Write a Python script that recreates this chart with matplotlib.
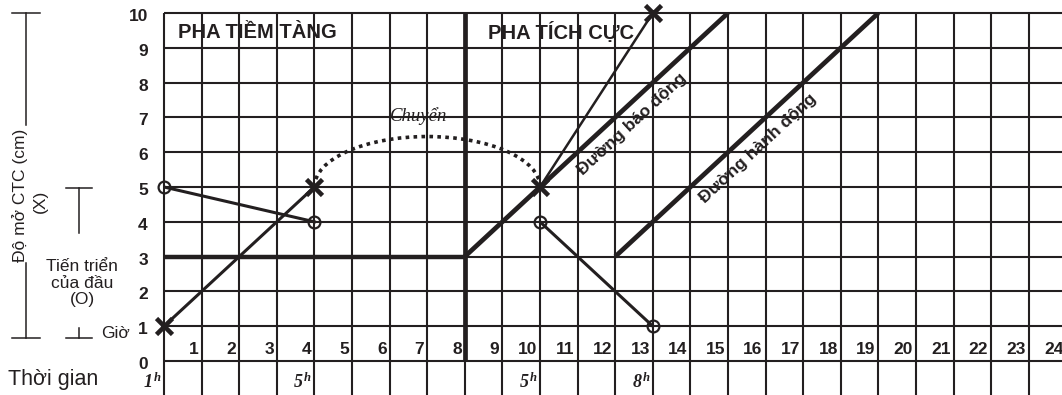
import matplotlib
matplotlib.use('Agg')
import matplotlib.pyplot as plt
from matplotlib.patches import Arc
from matplotlib.lines import Line2D

plt.rcParams['font.family'] = ['Liberation Sans', 'DejaVu Sans']
plt.rcParams['mathtext.fontset'] = 'custom'
plt.rcParams['mathtext.it'] = 'Liberation Serif:italic'
plt.rcParams['mathtext.rm'] = 'Liberation Serif'
plt.rcParams['mathtext.bf'] = 'Liberation Serif:italic:bold'

INK = '#231f20'

# ---- data ----
hours = list(range(1, 25))
cm_levels = list(range(0, 11))
grid_cols = list(range(0, 24))
# cervical dilation (X)
dil_x1 = [0, 4]
dil_y1 = [1, 5]
dil_x2 = [10, 13]
dil_y2 = [5, 10]
# head descent (O)
head_x1 = [0, 4]
head_y1 = [5, 4]
head_x2 = [10, 13]
head_y2 = [4, 1]
# latent phase line and boundary
latent_x = [0, 8]
latent_y = [3, 3]
phase_boundary_x = 8
# alert / action lines
alert_x = [8, 15]
alert_y = [3, 10]
action_x = [12, 19]
action_y = [3, 10]
# transfer arc (Chuyển)
transfer_center = (7, 5)
transfer_w = 6
transfer_h = 2.9
# clock times
clock_pos = [0, 4, 10, 13]
clock_labels = ['1', '5', '5', '8']

W, H = 1062, 395
UX, UY = 37.6, 34.8
fig = plt.figure(figsize=(W / 100, H / 100), dpi=100)
ax = fig.add_axes([164 / W, 0, (W - 164) / W, (H - 13) / H])
ax.set_xlim(0, (W - 164) / UX)
ax.set_ylim(-34 / UY, 10)
ax.axis('off')

# grid
ax.vlines(grid_cols, -2, 10, color=INK, lw=1.5, clip_on=False)
ax.hlines(cm_levels, 0, 25, color=INK, lw=1.5, clip_on=False)

# thick structural lines
ax.plot(latent_x, latent_y, color=INK, lw=3.2, solid_capstyle='butt')
ax.vlines(phase_boundary_x, 0, 10, color=INK, lw=3.4)
ax.plot(alert_x, alert_y, color=INK, lw=3.4, solid_capstyle='butt')
ax.plot(action_x, action_y, color=INK, lw=3.4, solid_capstyle='butt')

# dilation
ax.plot(dil_x1, dil_y1, color=INK, lw=2.2)
ax.plot(dil_x2, dil_y2, color=INK, lw=1.8)
ax.plot(dil_x1 + dil_x2, dil_y1 + dil_y2, ls='none', marker='x', ms=12,
        mew=3.3, color=INK, clip_on=False, zorder=5)

# head descent
ax.plot(head_x1, head_y1, color=INK, lw=2.2)
ax.plot(head_x2, head_y2, color=INK, lw=2.2)
ax.plot(head_x1 + head_x2, head_y1 + head_y2, ls='none', marker='o', ms=8.5,
        mew=1.6, mfc='none', mec=INK, clip_on=False, zorder=5)

# transfer arc
ax.add_patch(Arc(transfer_center, transfer_w, transfer_h, theta1=0, theta2=180,
                 color=INK, lw=2.6, ls=(0, (1, 1.2))))
ax.text(6.0, 7.05, 'Chuyển', fontsize=13.5, style='italic',
        family=['Liberation Serif', 'DejaVu Serif'], color=INK, va='center')

# phase titles
ax.text(0.37, 9.45, 'PHA TIỀM TÀNG', fontsize=14.5, fontweight='bold',
        color=INK, va='center', ha='left')
ax.text(8.62, 9.45, 'PHA TÍCH CỰC', fontsize=14.5, fontweight='bold',
        color=INK, va='center', ha='left')

# line labels
ax.text(12.45, 6.8, 'Đường báo động', rotation=42.8, rotation_mode='anchor',
        fontsize=12.5, fontweight='bold', color=INK, ha='center', va='center')
ax.text(15.8, 6.12, 'Đường hành động', rotation=42.8, rotation_mode='anchor',
        fontsize=12.5, fontweight='bold', color=INK, ha='center', va='center')

# hour labels
for h in hours:
    ax.text(h - 0.08, 0.32, str(h), fontsize=12.5, fontweight='bold', color=INK,
            ha='right', va='center', clip_on=False)
# cm labels
for c in cm_levels:
    ax.text(-0.43, c - 0.1, str(c), fontsize=12.5, fontweight='bold', color=INK,
            ha='right', va='center', clip_on=False)
# clock labels
for p, lab in zip(clock_pos, clock_labels):
    ax.text(p - 0.05, -0.6, r'$\mathbf{' + lab + r'}^{\,\mathbf{h}}$', fontsize=13,
            color=INK, ha='right', va='center', clip_on=False)

# left annotations (figure pixel coordinates)
def fx(x):
    return x / W

def fy(y):
    return 1 - y / H

def seg(x0, y0, x1, y1):
    fig.add_artist(Line2D([fx(x0), fx(x1)], [fy(y0), fy(y1)], color=INK, lw=1.1,
                          transform=fig.transFigure))

seg(26, 13, 26, 125)
seg(12, 13, 40, 13)
seg(26, 263, 26, 338)
seg(12, 338, 40, 338)
seg(79, 188, 79, 233)
seg(66, 188, 92, 188)
seg(79, 328, 79, 338)
seg(66, 338, 92, 338)

fig.text(fx(20), fy(195), 'Độ mở CTC (cm)', rotation=90, fontsize=12.5,
         color=INK, ha='center', va='center')
fig.text(fx(40), fy(201), '(X)', rotation=90, fontsize=12.5,
         color=INK, ha='center', va='center')
fig.text(fx(82), fy(283), 'Tiến triển\ncủa đầu\n(O)', fontsize=12.5,
         color=INK, ha='center', va='center', linespacing=1.15)
fig.text(fx(101), fy(333), 'Giờ', fontsize=12.5, color=INK, ha='left', va='center')
fig.text(fx(8), fy(380), 'Thời gian', fontsize=15.5, color=INK, ha='left', va='center')

fig.savefig('out.png', dpi=100)
